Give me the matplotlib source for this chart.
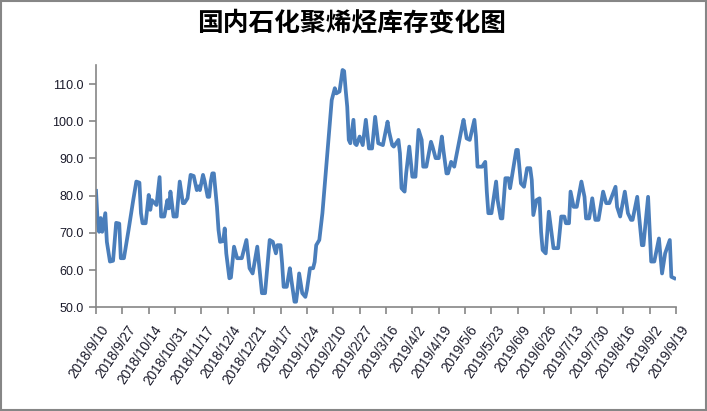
import matplotlib
matplotlib.use('Agg')
import matplotlib.pyplot as plt
import matplotlib.transforms as mtransforms
from matplotlib.patches import Rectangle
import pandas as pd

plt.rcParams['font.family'] = ['Liberation Sans', 'DejaVu Sans']

title = "国内石化聚烯烃库存变化图"
start_date = "2018-09-10"

# days since start date, and inventory values
day_offsets = [
    0, 1, 2, 3, 4, 6, 7, 9, 11, 13, 15, 16, 18, 21, 24, 26, 28, 29, 30, 32,
    34, 35, 36, 39, 41, 42, 44, 46, 47, 48, 50, 52, 54, 56, 57, 59, 61, 63, 65, 66,
    67, 69, 70, 72, 73, 74, 75, 76, 78, 79, 80, 82, 83, 84, 86, 87, 89, 91, 94, 97,
    99, 101, 104, 107, 109, 112, 114, 116, 117, 119, 120, 121, 123, 125, 126, 128, 129, 130, 131, 133,
    135, 136, 138, 140, 141, 142, 144, 146, 152, 154, 155, 157, 159, 160, 161, 162, 163, 164, 166, 167,
    168, 170, 172, 174, 176, 178, 180, 182, 185, 188, 189, 191, 192, 195, 196, 197, 199, 200, 202, 204,
    206, 208, 210, 211, 213, 216, 217, 219, 221, 223, 224, 226, 227, 229, 231, 236, 237, 239, 241, 244,
    245, 246, 249, 251, 252, 253, 255, 258, 259, 261, 262, 264, 266, 267, 271, 272, 274, 276, 278, 280,
    281, 282, 284, 286, 287, 288, 290, 292, 295, 298, 300, 302, 303, 305, 306, 308, 310, 313, 315, 316,
    318, 320, 322, 324, 327, 329, 331, 335, 336, 338, 341, 343, 345, 346, 349, 352, 353, 356, 358, 360,
    363, 365, 367, 370, 371, 373,
]
inventory = [
    81.3, 73.5, 70.3, 74.0, 70.3, 75.3, 67.6, 62.3, 62.5, 72.7, 72.5, 63.2, 63.2, 70.8, 78.8, 83.8, 83.5, 75.3, 72.6, 72.6,
    80.2, 76.2, 78.8, 77.5, 85.0, 74.4, 74.4, 78.8, 76.6, 81.1, 74.4, 74.4, 83.8, 78.0, 78.0, 79.3, 85.6, 85.3, 81.5, 82.5,
    81.5, 85.6, 84.0, 79.7, 79.7, 83.8, 86.0, 86.0, 77.0, 70.8, 67.6, 67.8, 71.2, 64.5, 57.8, 58.0, 66.3, 63.2, 63.2, 68.1,
    60.5, 59.1, 66.3, 53.8, 53.8, 68.1, 67.6, 64.5, 66.7, 66.7, 61.8, 55.5, 55.5, 60.5, 57.3, 51.5, 51.5, 54.7, 59.1, 53.8,
    52.8, 54.7, 60.5, 60.5, 62.2, 66.7, 68.1, 75.3, 105.7, 108.9, 107.5, 108.0, 113.8, 113.5, 108.4, 103.9, 95.0, 94.1, 100.4, 94.0,
    93.6, 95.9, 93.6, 100.4, 92.7, 92.7, 101.2, 94.1, 93.6, 99.9, 97.2, 93.6, 93.2, 95.0, 91.4, 82.0, 81.1, 86.0, 93.2, 85.1,
    85.1, 97.7, 95.0, 87.8, 87.8, 94.5, 93.2, 90.1, 90.1, 95.9, 92.3, 86.0, 86.0, 89.1, 87.8, 98.5, 100.4, 95.4, 95.0, 100.4,
    95.9, 87.8, 87.8, 89.1, 81.1, 75.3, 75.3, 83.8, 78.8, 73.9, 73.9, 84.7, 84.7, 82.0, 92.3, 92.3, 83.3, 82.4, 87.4, 87.4,
    84.2, 74.8, 78.8, 79.3, 70.3, 65.4, 64.5, 75.7, 65.9, 65.9, 74.4, 74.4, 72.6, 72.6, 81.1, 77.0, 77.0, 83.8, 79.7, 73.9,
    73.9, 79.3, 73.5, 73.5, 81.1, 78.0, 78.0, 82.4, 77.0, 74.4, 81.1, 75.3, 73.5, 73.5, 79.7, 66.7, 66.7, 79.7, 62.3, 62.3,
    68.5, 59.1, 64.5, 68.1, 58.2, 57.8,
]

tick_labels = [
    "2018/9/10", "2018/9/27", "2018/10/14", "2018/10/31", "2018/11/17", "2018/12/4",
    "2018/12/21", "2019/1/7", "2019/1/24", "2019/2/10", "2019/2/27", "2019/3/16",
    "2019/4/2", "2019/4/19", "2019/5/6", "2019/5/23", "2019/6/9", "2019/6/26",
    "2019/7/13", "2019/7/30", "2019/8/16", "2019/9/2", "2019/9/19",
]
y_ticks = [50, 60, 70, 80, 90, 100, 110]
y_range = (50, 115)

dates = pd.Timestamp(start_date) + pd.to_timedelta(day_offsets, unit='D')
tick_dates = pd.to_datetime(tick_labels, format="%Y/%m/%d")

W, H = 707, 411
fig = plt.figure(figsize=(W / 100, H / 100), dpi=100)
ax = fig.add_axes([96 / W, 1 - 307.3 / H, (676 - 96) / W, (307.3 - 65.5) / H])

ax.plot(dates, inventory, color='#4a7ebb', lw=2.7, solid_joinstyle='round')

ax.set_xlim(tick_dates[0], tick_dates[-1])
ax.set_ylim(*y_range)
ax.set_yticks(y_ticks)
ax.set_yticklabels([f"{v:.1f}" for v in y_ticks], fontsize=9, color='#1a1a2a')
ax.set_xticks(tick_dates)
ax.set_xticklabels(tick_labels, fontsize=9.8, color='#1a1a2a', rotation=56,
                   ha='right', va='center', rotation_mode='anchor')

for s in ['top', 'right']:
    ax.spines[s].set_visible(False)
for s in ['left', 'bottom']:
    ax.spines[s].set_color('#868686')
    ax.spines[s].set_linewidth(1.2)
ax.tick_params(axis='both', direction='out', length=5, width=1.2, color='#868686')
ax.tick_params(axis='y', pad=4)

offset = mtransforms.ScaledTranslation(10 / 100, -8 / 100, fig.dpi_scale_trans)
for lbl in ax.get_xticklabels():
    lbl.set_transform(lbl.get_transform() + offset)

fig.text(0.497, 0.945, title, ha='center', va='center', fontsize=18.5,
         fontweight='bold', family=['Noto Sans CJK SC', 'DejaVu Sans'], color='black')

fig.patches.append(Rectangle((0.001, 0.002), 0.997, 0.996, transform=fig.transFigure,
                             fill=False, edgecolor='#868686', lw=1.5))

fig.savefig('out.png', dpi=100)
